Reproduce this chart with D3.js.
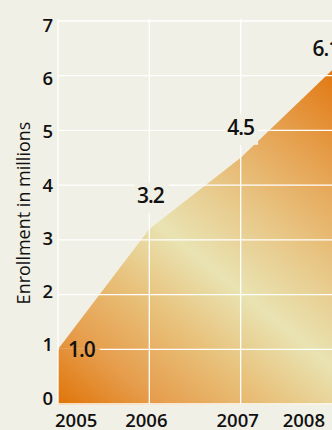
<!DOCTYPE html>
<html>
<head>
<meta charset="utf-8">
<script src="https://cdn.jsdelivr.net/npm/d3@7"></script>
<style>
    body { margin: 0; background: #f1f0e6; }
    #chart-area { width: 332px; height: 430px; }
    text { font-family: "Open Sans", sans-serif; fill: #111; font-weight: 600; }
</style>
</head>
<body>
<div id="chart-area"></div>
<script>

// chart data
const years = [2005, 2006, 2007, 2008];
const enrollment = [1.0, 3.2, 4.5, 6.1];
const yTicks = [0, 1, 2, 3, 4, 5, 6, 7];
const yTitle = "Enrollment in millions";

// label placement (relative to each point)
const labelLayout = [
    {dx: 10, dy: 8, anchor: 'start'},
    {dx: 1, dy: -26, anchor: 'middle'},
    {dx: 0, dy: -23, anchor: 'middle'},
    {dx: -6, dy: -14, anchor: 'middle'}
];

class EnrollmentChart {

    constructor(parentElement) {
        this.parentElement = parentElement;
        this.data = years.map((y, i) => ({year: y, value: enrollment[i]}));
        this.initVis();
    }

    initVis() {
        let vis = this;

        vis.bg = '#f1f0e6';
        vis.margin = {top: 21, right: 0, bottom: 26, left: 58};
        vis.width = 332 - vis.margin.left - vis.margin.right;
        vis.height = 430 - vis.margin.top - vis.margin.bottom;

        vis.svg = d3.select('#' + vis.parentElement).append('svg')
            .attr('width', 332)
            .attr('height', 430);

        vis.g = vis.svg.append('g')
            .attr('transform', `translate(${vis.margin.left},${vis.margin.top})`);

        // scales
        vis.x = d3.scaleLinear()
            .domain(d3.extent(years))
            .range([0, vis.width]);

        vis.y = d3.scaleLinear()
            .domain([0, d3.max(yTicks)])
            .range([vis.height, 0]);

        // tick labels sit a touch off the grid in the original
        vis.yLab = d3.scaleLinear()
            .domain([0, d3.max(yTicks)])
            .range([vis.height - 5.7, 4.5]);

        // diagonal gradient for the area
        let top = d3.max(enrollment);
        vis.grad = vis.svg.append('defs').append('linearGradient')
            .attr('id', 'area-grad')
            .attr('gradientUnits', 'userSpaceOnUse')
            .attr('x1', vis.x(years[0])).attr('y1', vis.y(0) + 1)
            .attr('x2', vis.x(years[years.length - 1])).attr('y2', vis.y(top));

        [[0, '#e07408'], [0.15, '#e69d4c'], [0.32, '#e8c27c'], [0.47, '#e9e3b2'],
         [0.62, '#e8c98a'], [0.8, '#e6a555'], [1, '#e27812']].forEach(s => {
            vis.grad.append('stop').attr('offset', s[0]).attr('stop-color', s[1]);
        });

        vis.area = d3.area()
            .x(d => vis.x(d.year))
            .y0(vis.y(0) + 1)
            .y1(d => vis.y(d.value));

        vis.updateVis();
    }

    updateVis() {
        let vis = this;

        // area
        vis.g.append('path')
            .datum(vis.data)
            .attr('d', vis.area)
            .attr('fill', 'url(#area-grad)');

        // grid
        vis.g.selectAll('.hgrid')
            .data(yTicks)
            .enter().append('line')
            .attr('class', 'hgrid')
            .attr('x1', 0).attr('x2', vis.width)
            .attr('y1', d => vis.y(d)).attr('y2', d => vis.y(d))
            .attr('stroke', 'white')
            .attr('stroke-width', 1.3);

        vis.g.selectAll('.vgrid')
            .data(years.slice(0, -1))
            .enter().append('line')
            .attr('class', 'vgrid')
            .attr('x1', d => vis.x(d)).attr('x2', d => vis.x(d))
            .attr('y1', vis.y(d3.max(yTicks)) - 2).attr('y2', vis.y(0))
            .attr('stroke', 'white')
            .attr('stroke-width', 1.3);

        // value labels with backing boxes
        let labels = vis.g.selectAll('.val-label')
            .data(vis.data)
            .enter().append('g')
            .attr('class', 'val-label');

        labels.append('text')
            .attr('x', (d, i) => vis.x(d.year) + labelLayout[i].dx)
            .attr('y', (d, i) => vis.y(d.value) + labelLayout[i].dy)
            .attr('text-anchor', (d, i) => labelLayout[i].anchor)
            .style('font-size', '21px')
            .style('letter-spacing', '-1px')
            .text(d => d.value.toFixed(1));

        labels.each(function(d, i) {
            let t = d3.select(this).select('text');
            let bb = t.node().getBBox();
            let base = vis.y(d.value) + labelLayout[i].dy;
            // first label sits inside the area, so its box uses the gradient
            let left = i === 0 ? 1 : bb.x - 2;
            let topY = i === 0 ? vis.y(d.value) - 0.7 : base - 20;
            d3.select(this).insert('rect', 'text')
                .attr('x', left)
                .attr('y', topY)
                .attr('width', bb.x + bb.width + 4 - left)
                .attr('height', base + 10 - topY)
                .attr('fill', i === 0 ? 'url(#area-grad)' : vis.bg);
        });

        // y axis
        vis.yAxis = d3.axisLeft(vis.yLab)
            .tickValues(yTicks)
            .tickFormat(d3.format('d'))
            .tickSize(0)
            .tickPadding(5);

        vis.g.append('g')
            .attr('class', 'y-axis')
            .call(vis.yAxis)
            .call(g => g.select('.domain').remove())
            .attr('font-family', null)
            .attr('font-size', null)
            .selectAll('text')
            .style('font-size', '18.5px')
            .attr('fill', '#111');

        // x labels
        vis.g.selectAll('.x-label')
            .data(years)
            .enter().append('text')
            .attr('class', 'x-label')
            .attr('x', (d, i) => vis.x(d) + (i === 0 ? -3 : i === years.length - 1 ? -7 : -3))
            .attr('y', vis.height + 22.7)
            .attr('text-anchor', (d, i) => i === 0 ? 'start' : i === years.length - 1 ? 'end' : 'middle')
            .style('font-size', '18.5px')
            .text(d => d);

        // y title
        vis.svg.append('text')
            .attr('transform', 'translate(30,213) rotate(-90)')
            .attr('text-anchor', 'middle')
            .style('font-size', '18px')
            .style('font-weight', 500)
            .text(yTitle);
    }
}

new EnrollmentChart('chart-area');
</script>
</body>
</html>
